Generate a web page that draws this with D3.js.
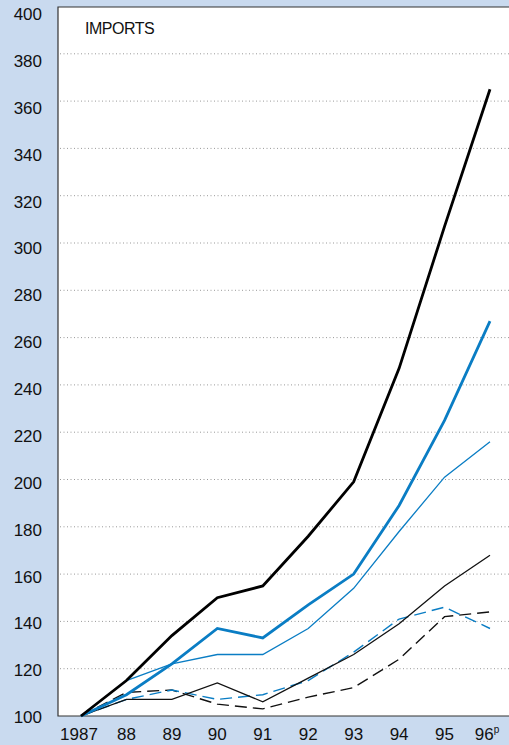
<!DOCTYPE html>
<html>
<head>
<meta charset="utf-8">
<script src="https://cdn.jsdelivr.net/npm/d3@7"></script>
<style>
  body { margin: 0; background: #c9daef; }
  svg { display: block; font-family: "Liberation Sans", Arial, sans-serif; }
</style>
</head>
<body>
<svg id="chart"></svg>
<script>
// years on the x axis
const years = ["1987", "88", "89", "90", "91", "92", "93", "94", "95", "96"];
const yTicks = [100, 120, 140, 160, 180, 200, 220, 240, 260, 280, 300, 320, 340, 360, 380, 400];

// index values, 1987 = 100
const thickBlack = [100, 115, 134, 150, 155, 176, 199, 247, 307, 365];
const thickBlue  = [100, 109, 122, 137, 133, 147, 160, 189, 225, 267];
const thinBlue   = [100, 115, 122, 126, 126, 137, 154, 178, 201, 216];
const thinBlack  = [100, 107, 107, 114, 106, 116, 126, 139, 155, 168];
const dashBlack  = [100, 110, 111, 105, 103, 108, 112, 124, 142, 144];
const dashBlue   = [100, 107, 111, 107, 109, 115, 127, 141, 146, 137];

const W = 509, H = 745;
const blue = "#0a7dc4";
const bg = "#c9daef";

const svg = d3.select("#chart").attr("width", W).attr("height", H);

svg.append("rect").attr("width", W).attr("height", H).attr("fill", bg);

const plot = { left: 58, right: W, top: 7, bottom: 716 };

const x = d3.scalePoint().domain(years).range([81, 490]);
const y = d3.scaleLinear().domain([100, 400]).range([plot.bottom, 6.5]);
// the printed labels sit slightly lower than their gridlines toward the top
const yLab = d3.scaleLinear().domain([100, 400]).range([717, 14]);

// white plot area
svg.append("rect")
    .attr("x", plot.left).attr("y", plot.top)
    .attr("width", plot.right - plot.left).attr("height", plot.bottom - plot.top)
    .attr("fill", "#fff");

// dotted gridlines
svg.append("g").selectAll("line")
    .data(yTicks.filter(d => d > 100 && d < 400))
    .enter().append("line")
    .attr("x1", plot.left + 2).attr("x2", plot.right)
    .attr("y1", d => y(d)).attr("y2", d => y(d))
    .attr("stroke", "#999")
    .attr("stroke-width", 1)
    .attr("stroke-dasharray", "1,2.5");

// frame: left, top, bottom
svg.append("path")
    .attr("d", `M${plot.right},${plot.top}H${plot.left}V${plot.bottom}H${plot.right}`)
    .attr("fill", "none")
    .attr("stroke", "#333")
    .attr("stroke-width", 1.2);

// y labels
svg.append("g").selectAll("text")
    .data(yTicks)
    .enter().append("text")
    .attr("x", 42)
    .attr("y", d => yLab(d))
    .attr("dy", "0.36em")
    .attr("text-anchor", "end")
    .style("font-size", "17px")
    .style("fill", "#111")
    .text(d => d);

// x labels
const xl = svg.append("g").selectAll("text")
    .data(years)
    .enter().append("text")
    .attr("x", d => x(d) + (d === "1987" ? -2 : (d === "96" ? -3 : 0)))
    .attr("y", 740)
    .attr("text-anchor", "middle")
    .style("font-size", "17px")
    .style("fill", "#111")
    .text(d => d);
xl.filter(d => d === "96").append("tspan")
    .attr("dy", "-7")
    .style("font-size", "10px")
    .text("p");

svg.append("text")
    .attr("x", 85).attr("y", 33.5)
    .style("font-size", "16px")
    .style("letter-spacing", "-0.5px")
    .style("fill", "#111")
    .text("IMPORTS");

const line = d3.line().x((d, i) => x(years[i])).y(d => y(d));

const series = [
  { values: dashBlack, color: "#111", width: 1.4, dash: "12,6" },
  { values: dashBlue,  color: blue,   width: 1.4, dash: "12,6" },
  { values: thinBlack, color: "#111", width: 1.3, dash: null },
  { values: thinBlue,  color: blue,   width: 1.3, dash: null },
  { values: thickBlue, color: blue,   width: 2.8, dash: null },
  { values: thickBlack, color: "#000", width: 2.8, dash: null }
];

svg.append("g").selectAll("path")
    .data(series)
    .enter().append("path")
    .attr("d", d => line(d.values))
    .attr("fill", "none")
    .attr("stroke", d => d.color)
    .attr("stroke-width", d => d.width)
    .attr("stroke-dasharray", d => d.dash)
    .attr("stroke-linejoin", "miter");
</script>
</body>
</html>
